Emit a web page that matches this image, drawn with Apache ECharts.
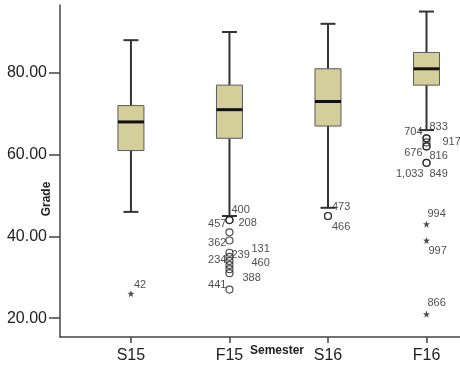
<!DOCTYPE html>
<html>
<head>
<meta charset="utf-8">
<title>Grade by Semester</title>
<script src="https://cdn.jsdelivr.net/npm/echarts@6.0.0/dist/echarts.min.js"></script>
<style>
html, body { margin: 0; padding: 0; background: #fff; }
#myChart { width: 460px; height: 370px; }
</style>
</head>
<body>
<div id="myChart"></div>
<script>
// categories and box statistics
const categories = ['S15', 'F15', 'S16', 'F16']
const boxMin = [46, 45, 47, 66]
const boxQ1 = [61, 64, 67, 77]
const boxMedian = [68, 71, 73, 81]
const boxQ3 = [72, 77, 81, 85]
const boxMax = [88, 90, 92, 95]
const yTicks = [20, 40, 60, 80]

// outliers (circles) : category index, grade, case label
const circleCat = [1, 1, 1, 1, 1, 1, 1, 1, 1, 1, 1, 2, 2, 3, 3, 3, 3, 3, 3, 3]
const circleVal = [44, 44, 41, 39, 36, 35, 34, 33, 32, 31, 27, 45, 45, 64, 64, 63, 62, 62, 58, 58]
const circleId = ['400', '457', '208', '362', '239', '131', '234', '460', '', '388', '441', '473', '466', '704', '833', '917', '676', '816', '1,033', '849']

// extremes (stars)
const starCat = [0, 3, 3, 3]
const starVal = [26, 43, 39, 21]
const starId = ['42', '994', '997', '866']

// where each case label sits next to its point: [align, dx, dy]
const labelPlace = {
  '400': ['left', 2, -10], '457': ['right', -3, 4], '208': ['left', 9, -9],
  '362': ['right', -3, 2], '239': ['left', 2, 2], '131': ['left', 22, -8],
  '234': ['right', -3, -1], '460': ['left', 22, -2], '388': ['left', 13, 5],
  '441': ['right', -3, -5], '473': ['left', 4, -9], '466': ['left', 4, 11],
  '704': ['right', -4, -6], '833': ['left', 3, -11], '917': ['left', 16, 0],
  '676': ['right', -4, 7], '816': ['left', 3, 10], '1,033': ['right', -3, 11],
  '849': ['left', 3, 11], '42': ['left', 3, -9], '994': ['left', 1, -10],
  '997': ['left', 2, 10], '866': ['left', 1, -11]
}

const FONT = '"Liberation Sans", Arial, sans-serif'
const STAR = 'path://M0,-10L2.35,-3.24L9.51,-3.09L3.8,1.24L5.88,8.09L0,4L-5.88,8.09L-3.8,1.24L-9.51,-3.09L-2.35,-3.24Z'

function pointData(cats, vals, ids) {
  let out = []
  for (let i = 0; i < vals.length; i++) {
    let item = { value: [cats[i], vals[i]] }
    let p = labelPlace[ids[i]]
    if (ids[i] && p) {
      item.label = {
        show: true,
        formatter: ids[i],
        position: 'inside',
        align: p[0],
        verticalAlign: 'middle',
        offset: [p[1], p[2]]
      }
    }
    out.push(item)
  }
  return out
}

let boxData = []
for (let i = 0; i < categories.length; i++) {
  boxData.push([i, boxMin[i], boxQ1[i], boxMedian[i], boxQ3[i], boxMax[i]])
}

// one box: whiskers with caps, khaki box, thick median
function renderBox(params, api) {
  let x = api.value(0)
  let lo = api.coord([x, api.value(1)])
  let q1 = api.coord([x, api.value(2)])
  let md = api.coord([x, api.value(3)])
  let q3 = api.coord([x, api.value(4)])
  let hi = api.coord([x, api.value(5)])
  let bw = 26
  let cw = 15
  let cx = lo[0]
  let whisker = { stroke: '#333', lineWidth: 2 }
  return {
    type: 'group',
    children: [
      { type: 'line', shape: { x1: cx, y1: lo[1], x2: cx, y2: q1[1] }, style: whisker },
      { type: 'line', shape: { x1: cx, y1: q3[1], x2: cx, y2: hi[1] }, style: whisker },
      { type: 'line', shape: { x1: cx - cw / 2, y1: lo[1], x2: cx + cw / 2, y2: lo[1] }, style: whisker },
      { type: 'line', shape: { x1: cx - cw / 2, y1: hi[1], x2: cx + cw / 2, y2: hi[1] }, style: whisker },
      {
        type: 'rect',
        shape: { x: cx - bw / 2, y: q3[1], width: bw, height: q1[1] - q3[1] },
        style: { fill: '#d4cf9a', stroke: '#5a5a5a', lineWidth: 1 }
      },
      { type: 'line', shape: { x1: cx - bw / 2, y1: md[1], x2: cx + bw / 2, y2: md[1] }, style: { stroke: '#111', lineWidth: 3 } }
    ]
  }
}

let myChart = echarts.init(document.getElementById('myChart'))
myChart.setOption({
  animation: false,
  textStyle: { fontFamily: FONT },
  grid: { left: 60, right: 0, top: 5, bottom: 33, outerBoundsMode: 'none' },
  xAxis: {
    type: 'value',
    min: -0.72,
    max: 3.34,
    name: 'Semester',
    nameLocation: 'middle',
    nameGap: 8,
    nameMoveOverlap: false,
    nameTextStyle: { fontFamily: FONT, fontSize: 12, fontWeight: 'bold', color: '#222', verticalAlign: 'top', padding: [0, 0, 0, 34] },
    splitLine: { show: false },
    axisLine: { onZero: false, lineStyle: { color: '#444', width: 1.5 } },
    axisTick: { customValues: [0, 1, 2, 3], length: 6, lineStyle: { color: '#444', width: 1.5 } },
    axisLabel: {
      customValues: [0, 1, 2, 3],
      formatter: v => categories[v],
      fontSize: 16,
      color: '#222',
      margin: 11
    }
  },
  yAxis: {
    type: 'value',
    min: 15.4,
    max: 96.6,
    name: 'Grade',
    nameLocation: 'middle',
    nameGap: 7,
    nameMoveOverlap: false,
    nameTextStyle: { fontFamily: FONT, fontSize: 12, fontWeight: 'bold', color: '#222', padding: [0, 56, 0, 0] },
    splitLine: { show: false },
    axisLine: { show: true, onZero: false, lineStyle: { color: '#444', width: 1.5 } },
    axisTick: { show: true, customValues: yTicks, length: 11, lineStyle: { color: '#444', width: 1.5 } },
    axisLabel: {
      customValues: yTicks,
      formatter: v => v.toFixed(2),
      fontSize: 16,
      color: '#222',
      margin: 13
    }
  },
  series: [
    {
      type: 'custom',
      renderItem: renderBox,
      encode: { x: 0, y: [1, 2, 3, 4, 5] },
      data: boxData,
      z: 2
    },
    {
      type: 'scatter',
      symbol: 'circle',
      symbolSize: 7,
      itemStyle: { color: 'rgba(255,255,255,0)', borderColor: '#222', borderWidth: 1.2 },
      label: { fontSize: 11, color: '#222', fontFamily: FONT },
      data: pointData(circleCat, circleVal, circleId),
      z: 3
    },
    {
      type: 'scatter',
      symbol: STAR,
      symbolSize: 7,
      itemStyle: { color: '#222' },
      label: { fontSize: 11, color: '#222', fontFamily: FONT },
      data: pointData(starCat, starVal, starId),
      z: 3
    }
  ]
})
</script>
</body>
</html>
